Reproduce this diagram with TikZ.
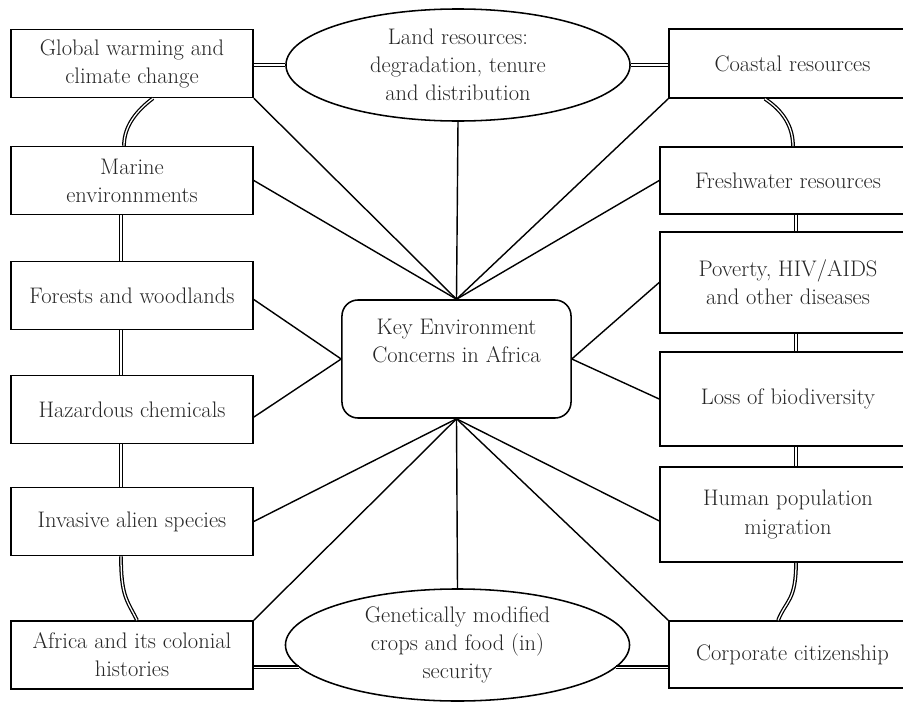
\documentclass[tikz,border=0pt]{standalone}
\usepackage{fontspec}
\usetikzlibrary{shapes.geometric}

\begin{document}
\begin{tikzpicture}[x=0.025cm, y=-0.025cm,
    every node/.style={font=\fontsize{16}{20}\selectfont, text=black!85, align=center, line width=1.1pt},
    topic/.style={draw, rectangle, inner sep=2pt, minimum width=6.05cm, minimum height=1.7cm},
    issue/.style={draw, rectangle, inner sep=2pt, minimum width=6.4cm},
    theme/.style={draw, ellipse, inner sep=0pt, minimum width=8.6cm, minimum height=2.8cm},
    hub/.style={draw, rectangle, rounded corners=0.4cm, minimum width=5.725cm, minimum height=2.95cm},
    spoke/.style={line width=1pt},
    link/.style={double, double distance=0.9pt, line width=0.9pt}]
\path[use as bounding box, clip] (0,0) rectangle (903,704);

\node[topic] (glob) at (132,63.5) {Global warming and\\climate change};
\node[topic] (mar) at (132,180.5) {Marine\\environnments};
\node[topic] (for) at (132,295.5) {Forests and woodlands};
\node[topic] (haz) at (132,409.5) {Hazardous chemicals};
\node[topic] (inv) at (132,521.5) {Invasive alien species};
\node[topic] (afr) at (132,655) {Africa and its colonial\\histories};

\node[issue, minimum width=6.175cm, minimum height=1.725cm] (coast) at (792.5,63.5) {Coastal resources};
\node[issue, minimum height=1.675cm] (fresh) at (788,180.5) {Freshwater resources};
\node[issue, minimum height=2.525cm] (pov) at (788,282.5) {Poverty, HIV/AIDS\\and other diseases};
\node[issue, minimum height=2.35cm] (loss) at (788,399) {Loss of biodiversity};
\node[issue, minimum height=2.375cm] (hum) at (788,514.5) {Human population\\migration};
\node[issue, minimum width=6.175cm, minimum height=1.675cm] (corp) at (792.5,654.5) {Corporate citizenship};

\node[theme] (land) at (458,65) {Land resources:\\degradation, tenure\\and distribution};
\node[theme] (gm) at (457.5,645) {Genetically modified\\crops and food (in)\\security};
\node[hub] (key) at (456.5,359) {Key Environment\\Concerns in Africa\\[6pt]};

\draw[spoke] (key.north) -- (glob.south east);
\draw[spoke] (key.north) -- (mar.east);
\draw[spoke] (key.north) -- (land.south);
\draw[spoke] (key.north) -- (coast.south west);
\draw[spoke] (key.north) -- (fresh.west);
\draw[spoke] (key.west) -- ([yshift=-0.1cm]for.east);
\draw[spoke] (key.west) -- ([yshift=-0.19cm]haz.east);
\draw[spoke] (key.east) -- (pov.west);
\draw[spoke] (key.east) -- (loss.west);
\draw[spoke] (key.south) -- (inv.east);
\draw[spoke] (key.south) -- (afr.north east);
\draw[spoke] (key.south) -- (gm.north);
\draw[spoke] (key.south) -- (corp.north west);
\draw[spoke] (key.south) -- ([yshift=-0.16cm]hum.west);

\draw[link] (land.west -| glob.east) -- (land.west);
\draw[link] (land.east) -- (land.east -| coast.west);
\draw[link] (afr.east |- gm.188) -- (gm.188);
\draw[link] (gm.352) -- (gm.352 -| corp.west);

\draw[link] ([xshift=0.525cm]glob.south) .. controls +(-16,12) and +(0,-20) .. ([xshift=-0.2cm]mar.north);
\draw[link] ([xshift=-0.275cm]mar.south) -- ([xshift=-0.275cm]for.north);
\draw[link] ([xshift=-0.275cm]for.south) -- ([xshift=-0.275cm]haz.north);
\draw[link] ([xshift=-0.275cm]haz.south) -- ([xshift=-0.275cm]inv.north);
\draw[link] ([xshift=-0.275cm]inv.south) .. controls +(0,40) and +(-10,-20) .. ([xshift=0.125cm]afr.north);

\draw[link] ([xshift=-0.69cm]coast.south) .. controls +(18,12) and +(0,-20) .. ([xshift=0.125cm]fresh.north);
\draw[link] ([xshift=0.2cm]fresh.south) -- ([xshift=0.2cm]pov.north);
\draw[link] ([xshift=0.2cm]pov.south) -- ([xshift=0.2cm]loss.north);
\draw[link] ([xshift=0.2cm]loss.south) -- ([xshift=0.2cm]hum.north);
\draw[link] ([xshift=0.2cm]hum.south) .. controls +(0,38) and +(8,-20) .. ([xshift=-0.36cm]corp.north);
\end{tikzpicture}
\end{document}
